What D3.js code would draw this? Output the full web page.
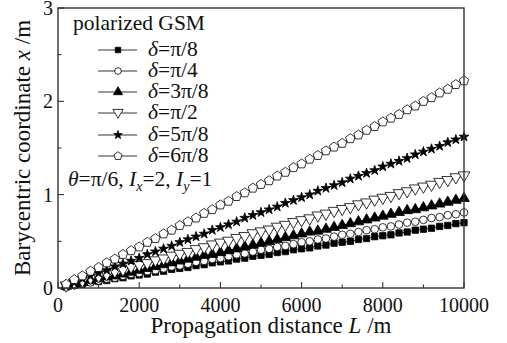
<!DOCTYPE html>
<html><head><meta charset="utf-8">
<script src="https://cdn.jsdelivr.net/npm/d3@7"></script>
<style>body{margin:0;background:#fff}svg{display:block}</style>
</head><body><svg id="c" width="507" height="343" font-family="'Liberation Serif', 'DejaVu Serif', serif"></svg>
<script>
const distances = [200,400,600,800,1000,1200,1400,1600,1800,2000,2200,2400,2600,2800,3000,3200,3400,3600,3800,4000,4200,4400,4600,4800,5000,5200,5400,5600,5800,6000,6200,6400,6600,6800,7000,7200,7400,7600,7800,8000,8200,8400,8600,8800,9000,9200,9400,9600,9800,10000];
const seriesLabels = ["π/8","π/4","3π/8","π/2","5π/8","6π/8"];
const d_pi8  = [0.01,0.03,0.04,0.06,0.07,0.08,0.10,0.11,0.13,0.14,0.15,0.17,0.18,0.20,0.21,0.22,0.24,0.25,0.27,0.28,0.29,0.31,0.32,0.34,0.35,0.36,0.38,0.39,0.41,0.42,0.43,0.45,0.46,0.48,0.49,0.50,0.52,0.53,0.55,0.56,0.57,0.59,0.60,0.62,0.63,0.64,0.66,0.67,0.69,0.70];
const d_pi4  = [0.02,0.03,0.05,0.06,0.08,0.10,0.11,0.13,0.15,0.16,0.18,0.19,0.21,0.23,0.24,0.26,0.28,0.29,0.31,0.32,0.34,0.36,0.37,0.39,0.41,0.42,0.44,0.45,0.47,0.49,0.50,0.52,0.53,0.55,0.57,0.58,0.60,0.62,0.63,0.65,0.66,0.68,0.70,0.71,0.73,0.75,0.76,0.78,0.79,0.81];
const d_3pi8 = [0.02,0.04,0.06,0.08,0.10,0.12,0.13,0.15,0.17,0.19,0.21,0.23,0.25,0.27,0.29,0.31,0.33,0.35,0.36,0.38,0.40,0.42,0.44,0.46,0.48,0.50,0.52,0.54,0.56,0.58,0.60,0.61,0.63,0.65,0.67,0.69,0.71,0.73,0.75,0.77,0.79,0.81,0.83,0.84,0.86,0.88,0.90,0.92,0.94,0.96];
const d_pi2  = [0.02,0.05,0.07,0.10,0.12,0.14,0.17,0.19,0.22,0.24,0.26,0.29,0.31,0.34,0.36,0.38,0.41,0.43,0.46,0.48,0.50,0.53,0.55,0.58,0.60,0.62,0.65,0.67,0.70,0.72,0.74,0.77,0.79,0.82,0.84,0.86,0.89,0.91,0.94,0.96,0.98,1.01,1.03,1.06,1.08,1.10,1.13,1.15,1.18,1.20];
const d_5pi8 = [0.03,0.06,0.10,0.13,0.16,0.19,0.23,0.26,0.29,0.32,0.36,0.39,0.42,0.45,0.49,0.52,0.55,0.58,0.62,0.65,0.68,0.71,0.75,0.78,0.81,0.84,0.87,0.91,0.94,0.97,1.00,1.04,1.07,1.10,1.13,1.17,1.20,1.23,1.26,1.30,1.33,1.36,1.39,1.43,1.46,1.49,1.52,1.56,1.59,1.62];
const d_6pi8 = [0.04,0.09,0.13,0.18,0.22,0.27,0.31,0.36,0.40,0.44,0.49,0.53,0.58,0.62,0.67,0.71,0.75,0.80,0.84,0.89,0.93,0.98,1.02,1.07,1.11,1.15,1.20,1.24,1.29,1.33,1.38,1.42,1.47,1.51,1.55,1.60,1.64,1.69,1.73,1.78,1.82,1.86,1.91,1.95,2.00,2.04,2.09,2.13,2.18,2.22];
const xTicks = [0,2000,4000,6000,8000,10000];
const yTicks = [0,1,2,3];

const svg = d3.select("#c");
const M = {l:58, t:8, r:464, b:288};
const x = d3.scaleLinear().domain([0,10000]).range([M.l, M.r]);
const y = d3.scaleLinear().domain([0,3]).range([M.b, M.t]);

const pentagon = { draw(ctx, size){ const r=Math.sqrt(size/2.378); for(let i=0;i<5;i++){const a=-Math.PI/2+i*2*Math.PI/5; const px=r*Math.cos(a), py=r*Math.sin(a); i?ctx.lineTo(px,py):ctx.moveTo(px,py);} ctx.closePath(); } };
const triDown = { draw(ctx, size){ const h=Math.sqrt(size*4/Math.sqrt(3)); const s=h/2; ctx.moveTo(-s,-h*0.35); ctx.lineTo(s,-h*0.35); ctx.lineTo(0,h*0.52); ctx.closePath(); } };
const series = [
 {v:d_pi8,  sym:d3.symbolSquare,  size:40, fill:"#000"},
 {v:d_pi4,  sym:d3.symbolCircle,  size:46, fill:"#fff"},
 {v:d_3pi8, sym:d3.symbolTriangle,size:50, fill:"#000"},
 {v:d_pi2,  sym:triDown,          size:60, fill:"#fff"},
 {v:d_5pi8, sym:d3.symbolStar,    size:30, fill:"#000"},
 {v:d_6pi8, sym:pentagon,         size:58, fill:"#fff"}
];

const g = svg.append("g");
d3.range(0,10001,1000).forEach(t=>{
  const major = t%2000===0;
  g.append("line").attr("x1",x(t)).attr("x2",x(t)).attr("y1",M.b).attr("y2",M.b-(major?6:3.5)).attr("stroke","#222").attr("stroke-width",1);
});
d3.range(0,3.01,0.5).forEach(t=>{
  const major = Math.abs(t-Math.round(t))<1e-6;
  g.append("line").attr("y1",y(t)).attr("y2",y(t)).attr("x1",M.l).attr("x2",M.l+(major?6:3.5)).attr("stroke","#222").attr("stroke-width",1);
});
xTicks.forEach(t=>g.append("text").attr("x",x(t)).attr("y",312).attr("text-anchor","middle").attr("font-size",20).attr("fill","#111").text(t));
yTicks.forEach(t=>g.append("text").attr("x",53).attr("y",y(t)+7).attr("text-anchor","end").attr("font-size",20).attr("fill","#111").text(t));

const line = d3.line().x((d,i)=>x(distances[i])).y(d=>y(d));
series.forEach(s=>{
  svg.append("path").attr("d",line(s.v)).attr("fill","none").attr("stroke","#000").attr("stroke-width",0.8);
  svg.append("g").selectAll("path").data(s.v).join("path")
    .attr("transform",(d,i)=>`translate(${x(distances[i])},${y(d)})`)
    .attr("d",d3.symbol(s.sym,s.size)).attr("fill",s.fill).attr("stroke","#000").attr("stroke-width",0.8);
});

svg.append("rect").attr("x",M.l).attr("y",M.t).attr("width",M.r-M.l).attr("height",M.b-M.t).attr("fill","none").attr("stroke","#333").attr("stroke-width",1.4);

const xt = svg.append("text").attr("x",(M.l+M.r)/2+10).attr("y",333).attr("text-anchor","middle").attr("font-size",23).attr("fill","#111");
xt.append("tspan").text("Propagation distance ");
xt.append("tspan").attr("font-style","italic").text("L");
xt.append("tspan").text(" /m");
const yt = svg.append("text").attr("transform","translate(30,148) rotate(-90)").attr("text-anchor","middle").attr("font-size",23).attr("fill","#111");
yt.append("tspan").text("Barycentric coordinate ");
yt.append("tspan").attr("font-style","italic").text("x");
yt.append("tspan").text(" /m");

svg.append("text").attr("x",73).attr("y",30).attr("font-size",21.5).attr("fill","#111").text("polarized GSM");
const rows = [50,71,92,113,135,156];
series.forEach((s,i)=>{
  svg.append("line").attr("x1",98).attr("x2",137).attr("y1",rows[i]).attr("y2",rows[i]).attr("stroke","#000").attr("stroke-width",0.8);
  svg.append("path").attr("transform",`translate(118,${rows[i]})`).attr("d",d3.symbol(s.sym,s.size*0.75)).attr("fill",s.fill).attr("stroke","#000").attr("stroke-width",0.8);
  const t = svg.append("text").attr("x",148).attr("y",rows[i]+6).attr("font-size",21.5).attr("fill","#111");
  t.append("tspan").attr("font-style","italic").text("δ");
  t.append("tspan").text("="+seriesLabels[i]);
});
const an = svg.append("text").attr("x",68).attr("y",186).attr("font-size",21.5).attr("fill","#111");
an.append("tspan").attr("font-style","italic").text("θ");
an.append("tspan").text("=π/6, ");
an.append("tspan").attr("font-style","italic").text("I");
an.append("tspan").attr("font-style","italic").attr("font-size",14).attr("dy",5).text("x");
an.append("tspan").attr("dy",-5).text("=2, ");
an.append("tspan").attr("font-style","italic").text("I");
an.append("tspan").attr("font-style","italic").attr("font-size",14).attr("dy",5).text("y");
an.append("tspan").attr("dy",-5).text("=1");
</script></body></html>
